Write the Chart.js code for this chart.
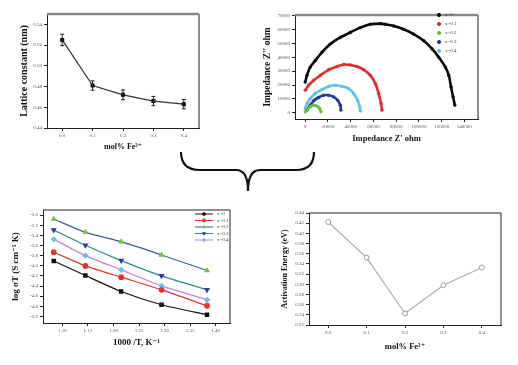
<!DOCTYPE html>
<html>
<head>
<meta charset="utf-8">
<script src="https://cdn.jsdelivr.net/npm/chart.js@4.4.0/dist/chart.umd.min.js"></script>
<style>
html, body { margin: 0; padding: 0; background: #fff; width: 518px; height: 365px; overflow: hidden; }
.pane { position: absolute; }
</style>
</head>
<body>
<canvas id="latticeChart" class="pane" style="left:0;top:0" width="259" height="160"></canvas>
<canvas id="nyquistChart" class="pane" style="left:259px;top:0" width="259" height="160"></canvas>
<canvas id="arrheniusChart" class="pane" style="left:0;top:195px" width="259" height="170"></canvas>
<canvas id="energyChart" class="pane" style="left:259px;top:195px" width="259" height="170"></canvas>
<svg class="pane" style="left:0;top:0;pointer-events:none" width="518" height="365">
  <path d="M181,152 Q181,170 200,170 L236,170 Q248,170 248,191 Q248,170 260,170 L296,170 Q314,170 314,152"
        fill="none" stroke="#111" stroke-width="2.2"/>
</svg>
<script>
// composition (mol% Fe3+)
const feMol = [0.0, 0.1, 0.2, 0.3, 0.4];
const molTicks = [0.0, 0.1, 0.2, 0.3, 0.4];

// lattice constant (nm) with error
const latticeNm = [0.525, 0.481, 0.472, 0.466, 0.463];
const latticeErr = [0.0055, 0.0045, 0.0047, 0.0045, 0.0045];
const latticeTicks = [0.44, 0.46, 0.48, 0.50, 0.52, 0.54];

// impedance arcs [Z', Z''] in ohm
const nyqX0 = [[0,22100],[1500,26900],[4400,32900],[8800,37600],[14700,43600],[22000,49500],[30800,54300],
  [39600,57900],[48500,61400],[57300,63800],[66100,64300],[70500,63800],[77800,62600],[86600,60200],
  [95400,56700],[104300,51900],[111600,46000],[117500,40000],[123300,32900],[126300,26900],
  [128300,18600],[130100,11400],[131600,5500]];
const nyqX01 = [[0,16200],[2900,19800],[7300,23300],[13200,26900],[20600,31000],[27900,33300],[33800,34800],
  [39600,34500],[45500,33300],[51400,31000],[57300,26900],[61700,21000],[64600,13800],[66700,6700],[67500,1900]];
const nyqX02 = [[0,700],[2000,2400],[4400,4300],[7300,5500],[10300,4800],[12600,3100],[13800,700]];
const nyqX03 = [[1500,1900],[4400,5500],[7300,8600],[11700,11000],[16200,12600],[20600,12600],
  [25000,11400],[28500,9000],[30800,5500],[31400,1900]];
const nyqX04 = [[0,3100],[1500,6700],[4400,10200],[8800,13800],[14700,16700],[20600,19000],[26400,19800],
  [32300,19000],[38200,17400],[42600,13800],[46100,9000],[47900,4300],[48500,1200]];
const zRealTicks = [0, 20000, 40000, 60000, 80000, 100000, 120000, 140000];
const zImagTicks = [0, 10000, 20000, 30000, 40000, 50000, 60000, 70000];

// conductivity vs 1000/T
const invT = [1.083, 1.145, 1.215, 1.294, 1.383];
const logSigX0 = [-3.905, -4.193, -4.508, -4.770, -4.967];
const logSigX01 = [-3.734, -4.003, -4.226, -4.475, -4.790];
const logSigX02 = [-3.079, -3.341, -3.525, -3.787, -4.095];
const logSigX03 = [-3.295, -3.597, -3.898, -4.200, -4.475];
const logSigX04 = [-3.479, -3.800, -4.082, -4.397, -4.672];
const invTTicks = [1.10, 1.15, 1.20, 1.25, 1.30, 1.35, 1.40];
const logSigTicks = [-5.0, -4.8, -4.6, -4.4, -4.2, -4.0, -3.8, -3.6, -3.4, -3.2, -3.0];

// activation energy (eV)
const activationEv = [0.4224, 0.3524, 0.2426, 0.2982, 0.3328];
const energyTicks = [0.22, 0.24, 0.26, 0.28, 0.30, 0.32, 0.34, 0.36, 0.38, 0.40, 0.42, 0.44];

const serif = "'Liberation Serif', 'DejaVu Serif', serif";
const tickFont = { family: serif, size: 5 };
const toPts = arr => arr.map(p => ({ x: p[0], y: p[1] }));
const zip = (xs, ys) => xs.map((x, i) => ({ x: x, y: ys[i] }));

// box round the plot, top edge may be heavier
const framePlugin = {
    id: 'frame',
    afterDatasetsDraw(chart, args, opts) {
        const { ctx, chartArea: a } = chart;
        ctx.save();
        ctx.strokeStyle = '#222';
        ctx.lineWidth = 1;
        ctx.beginPath();
        ctx.moveTo(a.right, a.top);
        ctx.lineTo(a.right, a.bottom);
        ctx.stroke();
        ctx.strokeStyle = opts.topColor || '#222';
        ctx.lineWidth = opts.topWidth || 1;
        ctx.beginPath();
        ctx.moveTo(a.left, a.top);
        ctx.lineTo(a.right, a.top);
        ctx.stroke();
        ctx.restore();
    }
};

// error bars for the lattice plot
const errorBarPlugin = {
    id: 'errorBars',
    afterDatasetsDraw(chart, args, opts) {
        if (!opts.errors) return;
        const { ctx, scales } = chart;
        const ds = chart.data.datasets[0];
        ctx.save();
        ctx.strokeStyle = '#222';
        ctx.lineWidth = 1;
        ds.data.forEach((p, i) => {
            const x = scales.x.getPixelForValue(p.x);
            const y1 = scales.y.getPixelForValue(p.y + opts.errors[i]);
            const y2 = scales.y.getPixelForValue(p.y - opts.errors[i]);
            ctx.beginPath();
            ctx.moveTo(x, y1); ctx.lineTo(x, y2);
            ctx.moveTo(x - 2, y1); ctx.lineTo(x + 2, y1);
            ctx.moveTo(x - 2, y2); ctx.lineTo(x + 2, y2);
            ctx.stroke();
        });
        ctx.restore();
    }
};

// small legend inside the plot
const innerLegend = {
    id: 'innerLegend',
    afterDraw(chart, args, o) {
        if (o.x === undefined) return;
        const ctx = chart.ctx;
        ctx.save();
        ctx.font = '5px ' + serif;
        ctx.textBaseline = 'middle';
        chart.data.datasets.forEach((ds, i) => {
            const y = o.y + i * o.dy;
            if (o.lineLen) {
                ctx.strokeStyle = ds.borderColor;
                ctx.lineWidth = 1;
                ctx.beginPath();
                ctx.moveTo(o.x - o.lineLen / 2, y);
                ctx.lineTo(o.x + o.lineLen / 2, y);
                ctx.stroke();
            }
            ctx.fillStyle = ds.pointBackgroundColor || ds.borderColor;
            ctx.strokeStyle = ds.pointBackgroundColor || ds.borderColor;
            Chart.helpers.drawPoint(ctx, {
                pointStyle: ds.pointStyle || 'circle',
                rotation: ds.pointRotation || 0,
                radius: o.radius || 1.8,
                borderWidth: 1
            }, o.x, y);
            ctx.fillStyle = '#333';
            ctx.fillText(ds.label, o.textX, y);
        });
        ctx.restore();
    }
};

function fixedTicks(list) {
    return s => { s.ticks = list.map(v => ({ value: v })); };
}

function axis(opts) {
    return {
        type: 'linear',
        min: opts.min,
        max: opts.max,
        afterBuildTicks: fixedTicks(opts.ticks),
        afterFit: s => {
            if (opts.width) s.width = opts.width;
            if (opts.height) s.height = opts.height;
        },
        grid: { display: true, drawOnChartArea: false, drawTicks: true, tickLength: 3, color: '#222' },
        border: { display: true, color: '#222', width: 1 },
        ticks: {
            font: tickFont,
            color: '#555',
            padding: 2,
            maxRotation: 0,
            autoSkip: false,
            callback: opts.fmt
        },
        title: {
            display: true,
            text: opts.title,
            color: '#111',
            font: { family: serif, size: opts.titleSize, weight: 'bold' },
            padding: opts.titlePad
        }
    };
}

const baseOpts = {
    responsive: false,
    animation: false,
    events: [],
    plugins: { legend: { display: false }, tooltip: { enabled: false } }
};

Chart.register(framePlugin, errorBarPlugin, innerLegend);

// top-left: lattice constant
new Chart(document.getElementById('latticeChart'), {
    type: 'scatter',
    data: {
        datasets: [{
            data: zip(feMol, latticeNm),
            showLine: true,
            borderColor: '#333',
            borderWidth: 1.2,
            pointStyle: 'rect',
            pointRadius: 2,
            pointBackgroundColor: '#111',
            pointBorderColor: '#111'
        }]
    },
    options: Object.assign({}, baseOpts, {
        layout: { padding: { left: 0, top: 14, right: 60, bottom: 0 } },
        scales: {
            x: axis({ min: -0.05, max: 0.45, ticks: molTicks, height: 32, fmt: v => v.toFixed(1),
                title: 'mol% Fe³⁺', titleSize: 8, titlePad: { top: 0, bottom: 8 } }),
            y: axis({ min: 0.44, max: 0.55, ticks: latticeTicks, width: 47, fmt: v => v.toFixed(2),
                title: 'Lattice constant (nm)', titleSize: 10, titlePad: { top: 18, bottom: 0 } })
        },
        plugins: Object.assign({}, baseOpts.plugins, {
            frame: { topColor: '#8a8a8a', topWidth: 2.5 },
            errorBars: { errors: latticeErr }
        })
    })
});

// top-right: impedance arcs
const arcSet = (label, pts, color) => ({
    label: label,
    data: toPts(pts),
    showLine: true,
    tension: 0.3,
    borderColor: color,
    borderWidth: 2.6,
    pointStyle: 'circle',
    pointRadius: 1.4,
    pointBorderWidth: 0.5,
    pointBackgroundColor: color,
    pointBorderColor: color
});
new Chart(document.getElementById('nyquistChart'), {
    type: 'scatter',
    data: {
        datasets: [
            arcSet('x=0', nyqX0, '#0a0a0a'),
            arcSet('x=0.1', nyqX01, '#e42a2a'),
            arcSet('x=0.2', nyqX02, '#6abf3a'),
            arcSet('x=0.3', nyqX03, '#24389a'),
            arcSet('x=0.4', nyqX04, '#5ec6e4')
        ]
    },
    options: Object.assign({}, baseOpts, {
        layout: { padding: { left: 0, top: 15, right: 40, bottom: 0 } },
        scales: {
            x: axis({ min: -9000, max: 152000, ticks: zRealTicks, height: 41, fmt: v => String(v),
                title: "Impedance Z' ohm", titleSize: 8.5, titlePad: { top: 0, bottom: 16 } }),
            y: axis({ min: -4500, max: 70500, ticks: zImagTicks, width: 36, fmt: v => String(v),
                title: "Impedance Z'' ohm", titleSize: 9.5, titlePad: { top: 3, bottom: 0 } })
        },
        plugins: Object.assign({}, baseOpts.plugins, {
            frame: { topColor: '#8a8a8a', topWidth: 2.5 },
            innerLegend: { x: 180, y: 15, dy: 9, textX: 186, radius: 1.6 }
        })
    })
});

// bottom-left: log(sigma T) vs 1000/T
const lineSet = (label, ys, line, mark, style, rot) => ({
    label: label,
    data: zip(invT, ys),
    showLine: true,
    tension: 0.2,
    borderColor: line,
    borderWidth: 1.2,
    pointStyle: style,
    pointRotation: rot || 0,
    pointRadius: 2.3,
    pointBackgroundColor: mark,
    pointBorderColor: mark
});
new Chart(document.getElementById('arrheniusChart'), {
    type: 'scatter',
    data: {
        datasets: [
            lineSet('x=0', logSigX0, '#111111', '#111111', 'rect'),
            lineSet('x=0.1', logSigX01, '#e8322e', '#e8322e', 'circle'),
            lineSet('x=0.2', logSigX02, '#3a5f8e', '#78bf4a', 'triangle'),
            lineSet('x=0.3', logSigX03, '#2e8a88', '#283f96', 'triangle', 180),
            lineSet('x=0.4', logSigX04, '#c77fd6', '#62c3ea', 'rectRot')
        ]
    },
    options: Object.assign({}, baseOpts, {
        layout: { padding: { left: 0, top: 15, right: 29, bottom: 0 } },
        scales: {
            x: axis({ min: 1.062, max: 1.428, ticks: invTTicks, height: 42, fmt: v => v.toFixed(2),
                title: '1000 /T, K⁻¹', titleSize: 9, titlePad: { top: 0, bottom: 17 } }),
            y: axis({ min: -5.13, max: -2.9, ticks: logSigTicks, width: 43, fmt: v => v.toFixed(1),
                title: 'log σT (S cm⁻¹ K)', titleSize: 9, titlePad: { top: 10, bottom: 0 } })
        },
        plugins: Object.assign({}, baseOpts.plugins, {
            frame: {},
            innerLegend: { x: 204, y: 19, dy: 6.5, textX: 217, lineLen: 18, radius: 1.6 }
        })
    })
});

// bottom-right: activation energy
new Chart(document.getElementById('energyChart'), {
    type: 'scatter',
    data: {
        datasets: [{
            data: zip(feMol, activationEv),
            showLine: true,
            borderColor: '#ababab',
            borderWidth: 1.2,
            pointStyle: 'circle',
            pointRadius: 2.5,
            pointBackgroundColor: '#ffffff',
            pointBorderColor: '#9a9a9a',
            pointBorderWidth: 1
        }]
    },
    options: Object.assign({}, baseOpts, {
        layout: { padding: { left: 0, top: 18, right: 17, bottom: 0 } },
        scales: {
            x: axis({ min: -0.05, max: 0.45, ticks: molTicks, height: 40, fmt: v => v.toFixed(1),
                title: 'mol% Fe³⁺', titleSize: 8.5, titlePad: { top: 0, bottom: 13 } }),
            y: axis({ min: 0.22, max: 0.44, ticks: energyTicks, width: 50, fmt: v => v.toFixed(2),
                title: 'Activation Energy (eV)', titleSize: 8, titlePad: { top: 21, bottom: 0 } })
        },
        plugins: Object.assign({}, baseOpts.plugins, { frame: {} })
    })
});
</script>
</body>
</html>
